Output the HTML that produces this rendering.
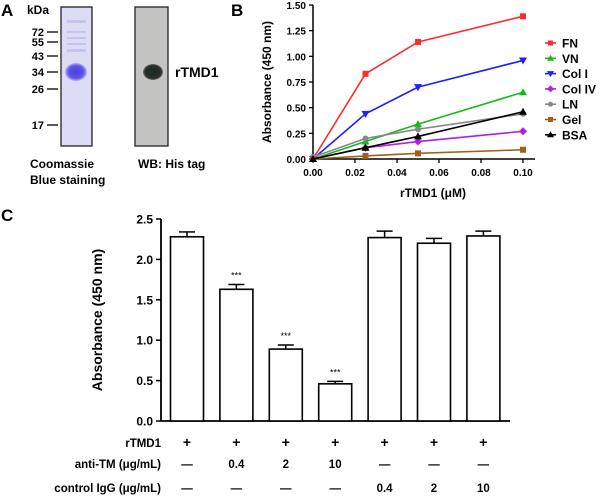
<!DOCTYPE html>
<html><head><meta charset="utf-8"><style>
html,body{margin:0;padding:0;background:#fff;}
svg{display:block;font-family:"Liberation Sans",Arial,sans-serif;font-weight:bold;}
</style></head><body>
<svg id="fig" width="600" height="496" viewBox="0 0 600 496">
<defs>
<radialGradient id="cb" cx="50%" cy="50%" r="50%"><stop offset="0" stop-color="#4a3ee6"/><stop offset="0.7" stop-color="#5f55e8"/><stop offset="1" stop-color="#b9b6f0"/></radialGradient>
<radialGradient id="wb" cx="50%" cy="50%" r="50%"><stop offset="0" stop-color="#1c2a22"/><stop offset="0.8" stop-color="#243028"/><stop offset="1" stop-color="#6e746f"/></radialGradient>
</defs>
<g>
<text x="1" y="16" font-size="17">A</text>
<text x="27" y="14" font-size="12">kDa</text>
<rect x="61" y="7" width="31" height="139" fill="#dcdcf4" stroke="#222" stroke-width="1.3"/>
<g fill="#c6c4ee">
<rect x="67" y="20" width="19" height="3"/><rect x="67" y="31" width="19" height="2"/><rect x="67" y="37" width="19" height="2"/><rect x="67" y="43" width="19" height="2"/><rect x="67" y="49" width="19" height="3"/>
</g>
<ellipse cx="76" cy="72" rx="11" ry="9" fill="url(#cb)"/>
<rect x="135" y="7" width="33" height="139" fill="#c4c4c2" stroke="#222" stroke-width="1.3"/>
<ellipse cx="153" cy="72" rx="10" ry="8" fill="url(#wb)"/>
<text x="175" y="77" font-size="14">rTMD1</text>
<g id="markers" font-size="11" text-anchor="end"></g>
<text x="30" y="168" font-size="12">Coomassie</text>
<text x="30" y="184" font-size="12">Blue staining</text>
<text x="138" y="168" font-size="12">WB: His tag</text>
</g>
<g id="pb">
<text x="231" y="16" font-size="17">B</text>
<text transform="translate(271,82) rotate(-90)" text-anchor="middle" font-size="12">Absorbance (450 nm)</text>
<text x="433" y="197" text-anchor="middle" font-size="12">rTMD1 (μM)</text>
</g>
<g id="pc">
<text x="1" y="221" font-size="17">C</text>
<text transform="translate(102,320) rotate(-90)" text-anchor="middle" font-size="14">Absorbance (450 nm)</text>
<text x="161" y="447" text-anchor="end" font-size="11.5">rTMD1</text>
<text x="161" y="468" text-anchor="end" font-size="11.5">anti-TM (μg/mL)</text>
<text x="161" y="492" text-anchor="end" font-size="11.5">control IgG (μg/mL)</text>
</g>
</svg>
<script>
const NS="http://www.w3.org/2000/svg";
function mk(tag,attrs,parent){const e=document.createElementNS(NS,tag);for(const k in attrs)e.setAttribute(k,attrs[k]);parent.appendChild(e);return e;}

const markerLabels=["72","55","43","34","26","17"];
const markerY=[32,42,56,72,89,125];
const mg=document.getElementById('markers');
markerLabels.forEach((l,i)=>{
  const t=mk('text',{x:44,y:markerY[i]+4},mg);t.textContent=l;
  
  
  const ln=mk('line',{x1:47,x2:58,y1:markerY[i],y2:markerY[i],stroke:'#222','stroke-width':1.5},mg);
  
  
});

const bX=[0,0.025,0.05,0.1];
const bSeries=["FN","VN","Col I","Col IV","LN","Gel","BSA"];
const bColors=["#ff2a2a","#19b819","#1f1fff","#b21ee8","#888888","#a0601a","#000000"];
const bFN=[0,0.83,1.14,1.39];
const bVN=[0,0.17,0.34,0.65];
const bColI=[0,0.44,0.70,0.96];
const bColIV=[0,0.11,0.17,0.27];
const bLN=[0.02,0.20,0.29,0.44];
const bGel=[0,0.03,0.055,0.09];
const bBSA=[0,0.11,0.22,0.46];
const bVals=[bFN,bVN,bColI,bColIV,bLN,bGel,bBSA];
const bYTicks=["0.00","0.25","0.50","0.75","1.00","1.25","1.50"];
const bXTicks=["0.00","0.02","0.04","0.06","0.08","0.10"];
const bx=v=>313+v*2100, by=v=>159-v*(154/1.5);
const pb=document.getElementById('pb');
let ax=mk('line',{x1:313,x2:313,y1:5,y2:159,stroke:'#000','stroke-width':1.5},pb);

ax=mk('line',{x1:313,x2:535,y1:159,y2:159,stroke:'#000','stroke-width':1.5},pb);

bYTicks.forEach(t=>{const y=by(parseFloat(t));
  mk('line',{x1:309,x2:313,y1:y,y2:y,stroke:'#000','stroke-width':1.3},pb);
  const e=mk('text',{x:306,y:y+4,'text-anchor':'end','font-size':10},pb);e.textContent=t;
  });
bXTicks.forEach(t=>{const x=bx(parseFloat(t));
  mk('line',{x1:x,x2:x,y1:159,y2:163,stroke:'#000','stroke-width':1.3},pb);
  const e=mk('text',{x:x,y:176,'text-anchor':'middle','font-size':10},pb);e.textContent=t;
  });
function marker(i,x,y,g,s){const c=bColors[i];s=s||3;
  if(i===0||i===5) return mk('rect',{x:x-s,y:y-s,width:2*s,height:2*s,fill:c},g);
  if(i===1||i===6) return mk('path',{d:`M${x},${y-s-1}L${x+s+1},${y+s}L${x-s-1},${y+s}Z`,fill:c},g);
  if(i===2) return mk('path',{d:`M${x},${y+s+1}L${x+s+1},${y-s}L${x-s-1},${y-s}Z`,fill:c},g);
  if(i===3) return mk('path',{d:`M${x},${y-s-1}L${x+s+1},${y}L${x},${y+s+1}L${x-s-1},${y}Z`,fill:c},g);
  return mk('circle',{cx:x,cy:y,r:s,fill:c},g);}
bVals.forEach((vals,i)=>{
  const g=mk('g',{},pb);
  
  
  const pts=vals.map((v,j)=>bx(bX[j])+','+by(v)).join(' ');
  mk('polyline',{points:pts,fill:'none',stroke:bColors[i],'stroke-width':1.6},g);
  vals.forEach((v,j)=>{const m=marker(i,bx(bX[j]),by(v),g);
    });
  const ly=43+i*15.3;
  const lg=mk('g',{},pb);
  
  
  mk('line',{x1:545,x2:556,y1:ly,y2:ly,stroke:bColors[i],'stroke-width':1.6},lg);
  marker(i,550.5,ly,lg,2.5);
  const t=mk('text',{x:562,y:ly+4.5,'font-size':12},lg);t.textContent=bSeries[i];
});

const cCats=["g1","g2","g3","g4","g5","g6","g7"];
const cVals=[2.28,1.63,0.89,0.46,2.27,2.20,2.29];
const cErr=[0.06,0.06,0.05,0.03,0.08,0.06,0.06];
const cSig=["","***","***","***","","",""];
const cYTicks=["0.0","0.5","1.0","1.5","2.0","2.5"];
const rowRTMD1=["+","+","+","+","+","+","+"];
const rowAntiTM=["—","0.4","2","10","—","—","—"];
const rowIgG=["—","—","—","—","0.4","2","10"];
const cx=i=>187+i*49.4, cy=v=>421-v*(202/2.5);
const pc=document.getElementById('pc');
ax=mk('line',{x1:161,x2:161,y1:219,y2:421,stroke:'#000','stroke-width':1.8},pc);

ax=mk('line',{x1:161,x2:510,y1:421,y2:421,stroke:'#000','stroke-width':1.8},pc);

cYTicks.forEach(t=>{const y=cy(parseFloat(t));
  mk('line',{x1:156,x2:161,y1:y,y2:y,stroke:'#000','stroke-width':1.5},pc);
  const e=mk('text',{x:153,y:y+4.5,'text-anchor':'end','font-size':12},pc);e.textContent=t;
  });
cVals.forEach((v,i)=>{const x=cx(i);
  const g=mk('g',{},pc);
  
  
  const top=cy(v+cErr[i]);
  mk('line',{x1:x,x2:x,y1:cy(v),y2:top,stroke:'#000','stroke-width':1.5},g);
  mk('line',{x1:x-8,x2:x+8,y1:top,y2:top,stroke:'#000','stroke-width':1.5},g);
  mk('rect',{x:x-16.5,y:cy(v),width:33,height:421-cy(v),fill:'#fff',stroke:'#000','stroke-width':1.6},g);
  if(cSig[i]){const s=mk('text',{x:x,y:top-6,'text-anchor':'middle','font-size':9,'font-weight':'normal'},g);s.textContent=cSig[i];}
  [[rowRTMD1,447],[rowAntiTM,468],[rowIgG,492]].forEach(([row,y])=>{
    const t=mk('text',{x:x,y:y,'text-anchor':'middle','font-size':row===rowRTMD1?14:11.5},pc);t.textContent=row[i];
    });
});
</script>
</body></html>
